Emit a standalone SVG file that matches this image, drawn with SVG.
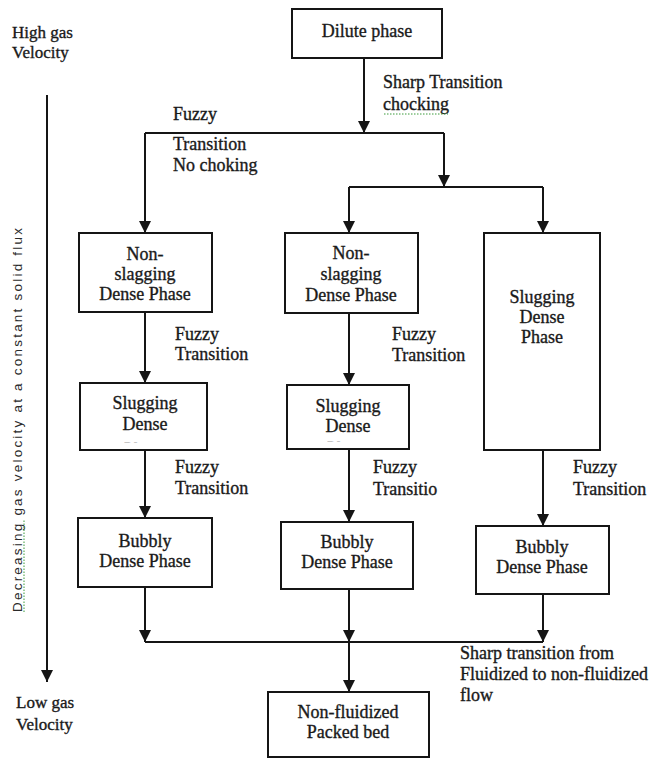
<svg xmlns="http://www.w3.org/2000/svg" width="656" height="758" viewBox="0 0 656 758">
<style>
.box{fill:#fff;stroke:#151515;stroke-width:2}
.t{font-family:"Liberation Serif","Times New Roman",serif;font-size:18px;fill:#1a1a1a;stroke:#1a1a1a;stroke-width:0.35}
.c{text-anchor:middle}
.ln{fill:none;stroke:#151515;stroke-width:2}
.sq{fill:none;stroke:#3a9a3a;stroke-width:1;stroke-dasharray:1.5 1.5}
</style>
<defs>
<marker id="ah" markerUnits="userSpaceOnUse" markerWidth="13" markerHeight="13" refX="12" refY="6.5" orient="auto">
<path d="M0,0.5 L12,6.5 L0,12.5 z" fill="#151515"/>
</marker>
<clipPath id="c1"><rect x="80" y="383" width="127" height="60"/></clipPath>
<clipPath id="c2"><rect x="287" y="385" width="122" height="57"/></clipPath>
</defs>
<rect width="656" height="758" fill="#fff"/>

<g id="axis">
<text class="t" x="12" y="38" style="font-size:17px">High gas</text>
<text class="t" x="12" y="58" style="font-size:17px">Velocity</text>
<line class="ln" x1="47" y1="95" x2="47" y2="682" marker-end="url(#ah)"/>
<text transform="translate(22,420) rotate(-90)" text-anchor="middle" textLength="384" lengthAdjust="spacing" style="font-family:'Liberation Sans',Arial,sans-serif;font-size:13.5px;fill:#2a2a2a">Decreasing gas velocity at a constant solid flux</text>
<path class="sq" d="M24,612 V520"/>
<text class="t" x="16" y="708" style="font-size:17px">Low gas</text>
<text class="t" x="16" y="730" style="font-size:17px">Velocity</text>
</g>

<g id="connectors">
<line class="ln" x1="364" y1="58" x2="364" y2="133" marker-end="url(#ah)"/>
<line class="ln" x1="145" y1="133" x2="444" y2="133"/>
<line class="ln" x1="145" y1="133" x2="145" y2="233" marker-end="url(#ah)"/>
<line class="ln" x1="444" y1="133" x2="444" y2="187" marker-end="url(#ah)"/>
<line class="ln" x1="349" y1="187" x2="543" y2="187"/>
<line class="ln" x1="349" y1="187" x2="349" y2="233" marker-end="url(#ah)"/>
<line class="ln" x1="543" y1="187" x2="543" y2="233" marker-end="url(#ah)"/>
<line class="ln" x1="145" y1="312" x2="145" y2="383" marker-end="url(#ah)"/>
<line class="ln" x1="145" y1="450" x2="145" y2="518" marker-end="url(#ah)"/>
<line class="ln" x1="145" y1="587" x2="145" y2="642" marker-end="url(#ah)"/>
<line class="ln" x1="349" y1="313" x2="349" y2="385" marker-end="url(#ah)"/>
<line class="ln" x1="349" y1="449" x2="349" y2="522" marker-end="url(#ah)"/>
<line class="ln" x1="349" y1="589" x2="349" y2="642" marker-end="url(#ah)"/>
<line class="ln" x1="349" y1="642" x2="349" y2="692" marker-end="url(#ah)"/>
<line class="ln" x1="543" y1="450" x2="543" y2="526" marker-end="url(#ah)"/>
<line class="ln" x1="543" y1="594" x2="543" y2="642" marker-end="url(#ah)"/>
<line class="ln" x1="145" y1="642" x2="543" y2="642"/>
</g>

<g id="labels">
<text class="t" x="383" y="88">Sharp Transition</text>
<text class="t" x="383" y="110">chocking</text>
<path class="sq" d="M384,114 H448"/>
<text class="t" x="173" y="120">Fuzzy</text>
<text class="t" x="173" y="150">Transition</text>
<text class="t" x="173" y="171">No choking</text>
<text class="t" x="175" y="340">Fuzzy</text>
<text class="t" x="175" y="360">Transition</text>
<text class="t" x="392" y="340">Fuzzy</text>
<text class="t" x="392" y="361">Transition</text>
<text class="t" x="175" y="473">Fuzzy</text>
<text class="t" x="175" y="494">Transition</text>
<text class="t" x="373" y="473">Fuzzy</text>
<text class="t" x="373" y="495">Transitio</text>
<text class="t" x="573" y="473">Fuzzy</text>
<text class="t" x="573" y="495">Transition</text>
<text class="t" x="460" y="659">Sharp transition from</text>
<text class="t" x="460" y="680">Fluidized to non-fluidized</text>
<text class="t" x="460" y="701">flow</text>
</g>

<g id="dilute">
<rect class="box" x="292" y="9" width="150" height="49"/>
<text class="t c" x="367" y="37">Dilute phase</text>
</g>

<g id="nonslag1">
<rect class="box" x="79" y="233" width="133" height="79"/>
<text class="t c" x="145" y="260">Non-</text>
<text class="t c" x="145" y="280">slagging</text>
<text class="t c" x="145" y="300">Dense Phase</text>
</g>

<g id="nonslag2">
<rect class="box" x="285" y="233" width="133" height="80"/>
<text class="t c" x="351" y="259">Non-</text>
<text class="t c" x="351" y="280">slagging</text>
<text class="t c" x="351" y="301">Dense Phase</text>
</g>

<g id="slug3">
<rect class="box" x="484" y="233" width="116" height="217"/>
<text class="t c" x="542" y="303">Slugging</text>
<text class="t c" x="542" y="323">Dense</text>
<text class="t c" x="542" y="343">Phase</text>
</g>

<g id="slug1">
<rect class="box" x="80" y="383" width="127" height="67"/>
<text class="t c" x="145" y="409">Slugging</text>
<text class="t c" x="145" y="430">Dense</text>
<text class="t c" x="145" y="456" clip-path="url(#c1)">Phase</text>
</g>

<g id="slug2">
<rect class="box" x="287" y="385" width="122" height="64"/>
<text class="t c" x="348" y="412">Slugging</text>
<text class="t c" x="348" y="432">Dense</text>
<text class="t c" x="348" y="455" clip-path="url(#c2)">Phase</text>
</g>

<g id="bubbly1">
<rect class="box" x="78" y="518" width="134" height="69"/>
<text class="t c" x="145" y="547">Bubbly</text>
<text class="t c" x="145" y="567">Dense Phase</text>
</g>

<g id="bubbly2">
<rect class="box" x="281" y="522" width="132" height="67"/>
<text class="t c" x="347" y="548">Bubbly</text>
<text class="t c" x="347" y="568">Dense Phase</text>
</g>

<g id="bubbly3">
<rect class="box" x="476" y="526" width="133" height="68"/>
<text class="t c" x="542" y="553">Bubbly</text>
<text class="t c" x="542" y="573">Dense Phase</text>
</g>

<g id="packed">
<rect class="box" x="268" y="692" width="161" height="65"/>
<text class="t c" x="348" y="718">Non-fluidized</text>
<text class="t c" x="348" y="738">Packed bed</text>
</g>
</svg>
